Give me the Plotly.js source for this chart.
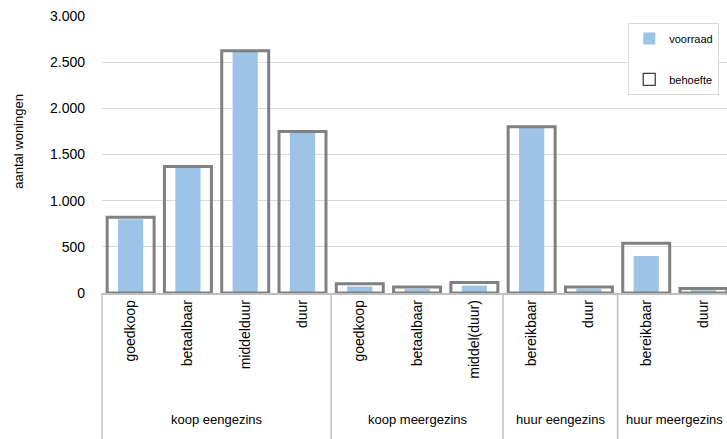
<!DOCTYPE html>
<html><head><meta charset="utf-8">
<script src="https://cdn.plot.ly/plotly-3.0.1.min.js"></script>
<style>body{margin:0;padding:0;background:#fff}#chart{width:727px;height:439px}</style>
</head><body><div id="chart"></div>
<script>
const groupNames = ['koop eengezins','koop meergezins','huur eengezins','huur meergezins'];
const groupSizes = [4, 3, 2, 2];
const subcats = ['goedkoop','betaalbaar','middelduur','duur',
  'goedkoop','betaalbaar','middel(duur)',
  'bereikbaar','duur',
  'bereikbaar','duur'];
const voorraad = [800, 1360, 2615, 1745, 70, 45, 80, 1790, 45, 400, 30];
const behoefte = [820, 1370, 2625, 1750, 100, 65, 115, 1800, 65, 540, 50];

const idx = subcats.map((_, i) => i);
const FF = 'Liberation Sans, Arial, sans-serif';
const XR = [-0.5, 10.41];
const toPaperX = v => (v - XR[0]) / (XR[1] - XR[0]);

// group labels and dividers
const annotations = [];
const shapes = [];
let start = 0;
groupNames.forEach((g, k) => {
  const n = groupSizes[k];
  annotations.push({text: g, xref: 'x', yref: 'paper', x: start + (n - 1) / 2, y: -0.458,
    showarrow: false, xanchor: 'center', yanchor: 'middle', font: {family: FF, size: 13, color: '#000'}});
  shapes.push({type: 'line', xref: 'paper', yref: 'paper', x0: toPaperX(start - 0.5), x1: toPaperX(start - 0.5),
    y0: 0, y1: -0.53, line: {color: '#bfbfbf', width: 1.5}});
  start += n;
});
annotations.push({text: 'aantal woningen', xref: 'paper', yref: 'paper', x: -0.1335, y: 0.548, textangle: -90,
  showarrow: false, xanchor: 'center', yanchor: 'middle', font: {family: FF, size: 13, color: '#000'}});

const data = [
  {type: 'bar', name: 'voorraad', x: idx, y: voorraad, width: 0.44,
   marker: {color: '#9dc3e6', line: {width: 0}}, legendgroup: 'a'},
  {type: 'bar', name: 'behoefte', x: idx, y: behoefte, width: 0.82, showlegend: false,
   marker: {color: 'rgba(255,255,255,0)', line: {color: '#808080', width: 3}}},
  {type: 'bar', name: 'behoefte', x: [null], y: [null], legendgroup: 'b',
   marker: {color: '#fff', line: {color: '#404040', width: 1.3}}}
];
const layout = {
  width: 727, height: 439,
  margin: {l: 101.5, r: 0, t: 16, b: 146},
  barmode: 'overlay',
  separators: ',.',
  font: {family: FF, size: 12, color: '#000'},
  paper_bgcolor: '#fff', plot_bgcolor: '#fff',
  showlegend: true,
  legend: {x: 0.842, y: 0.975, xanchor: 'left', yanchor: 'top', bgcolor: '#fff',
    bordercolor: '#d9d9d9', borderwidth: 1, tracegroupgap: 22, itemwidth: 30,
    font: {family: FF, size: 11, color: '#000'}},
  xaxis: {range: XR, tickmode: 'array', tickvals: idx, ticktext: subcats, tickangle: -90,
    showline: true, linecolor: '#bfbfbf', linewidth: 1.5, ticks: '', showgrid: false, zeroline: false,
    tickfont: {family: FF, size: 14, color: '#000'}},
  yaxis: {range: [0, 3000], dtick: 500, tickformat: ',d', showgrid: true, gridcolor: '#d9d9d9',
    gridwidth: 1, zeroline: false, ticks: '', ticklabelstandoff: 16,
    tickfont: {family: FF, size: 14, color: '#000'}},
  annotations: annotations,
  shapes: shapes
};
Plotly.newPlot('chart', data, layout, {displayModeBar: false, staticPlot: true});
</script></body></html>
